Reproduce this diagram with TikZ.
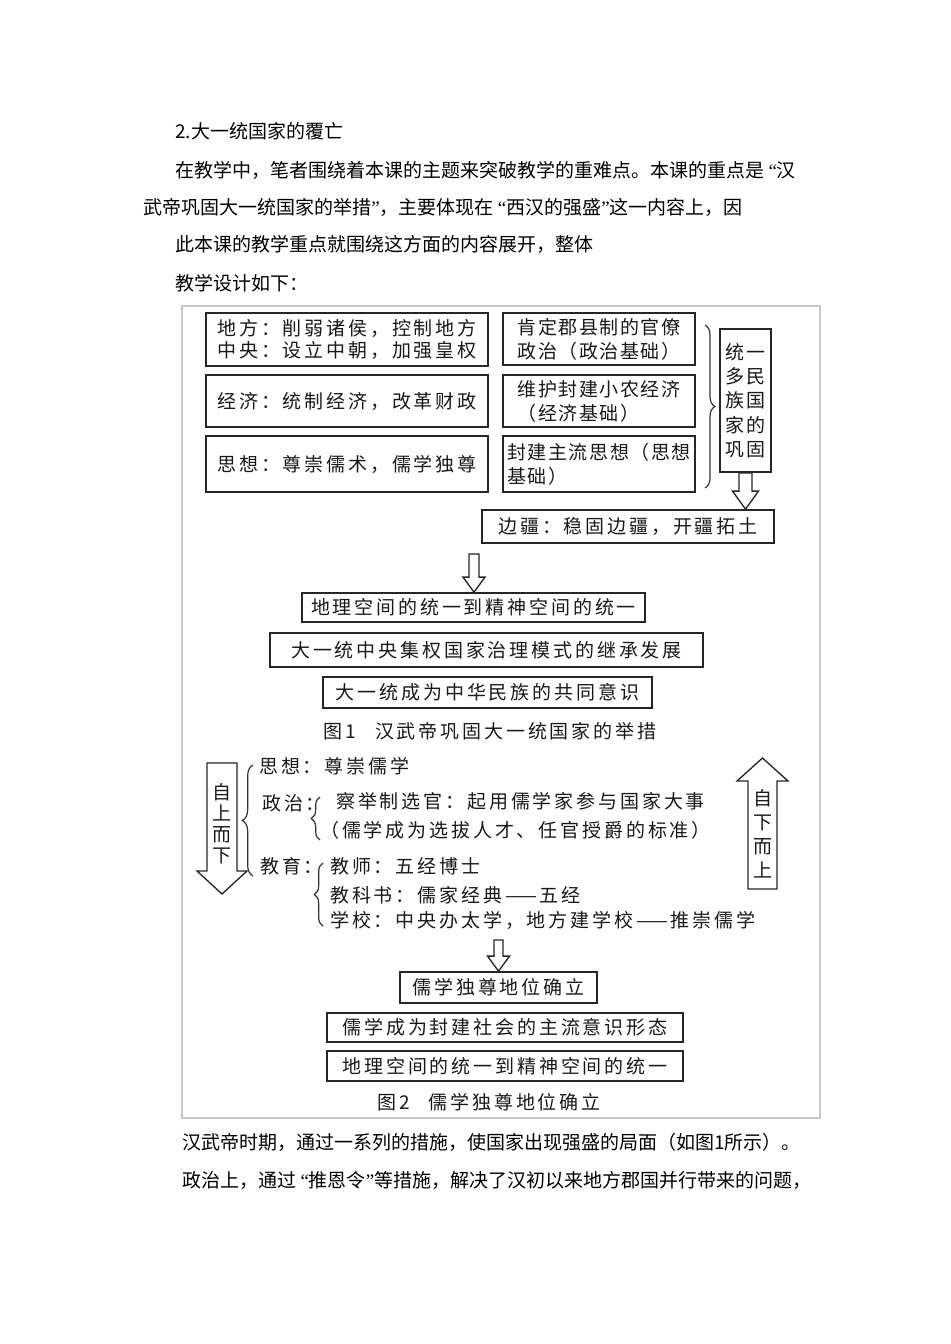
\documentclass[tikz,border=0pt]{standalone}
\usepackage{fontspec}
\setmainfont{Noto Sans CJK SC}
\newfontfamily\bodyf{Noto Sans CJK SC}
\newfontfamily\latq{Liberation Serif}
\newfontfamily\kaiA[LetterSpace=15]{Noto Sans CJK SC}
\newfontfamily\kaiB[LetterSpace=8]{Noto Sans CJK SC}
\newcommand\myLq{{\latq “}}
\newcommand\myRq{{\latq ”}}
\usetikzlibrary{decorations.pathreplacing,calc}
\newcommand\fasetup[3]{\def\fasH{#1}\def\faHH{#2}\def\faHL{#3}}
\newcommand\downfat[2]{\draw[fatarrow] let \p1=(#1), \p2=(#2) in
  (\x1-\fasH,\y1) -- (\x1+\fasH,\y1) -- (\x1+\fasH,\y2+\faHL) -- (\x1+\faHH,\y2+\faHL)
  -- (\x1,\y2) -- (\x1-\faHH,\y2+\faHL) -- (\x1-\fasH,\y2+\faHL) -- cycle;}
\newcommand\upfat[2]{\draw[fatarrow] let \p1=(#1), \p2=(#2) in
  (\x1-\fasH,\y1) -- (\x1+\fasH,\y1) -- (\x1+\fasH,\y2-\faHL) -- (\x1+\faHH,\y2-\faHL)
  -- (\x1,\y2) -- (\x1-\faHH,\y2-\faHL) -- (\x1-\fasH,\y2-\faHL) -- cycle;}
\tikzset{
  box/.style={draw=black!85, line width=1.3pt, inner sep=0pt, align=center, text=black!90,
    font=\kaiA\fontsize{14.25pt}{16.5pt}\selectfont},
  boxb/.style={box, font=\kaiB\fontsize{14.25pt}{18pt}\selectfont, align=left},
  fatarrow/.style={draw=black!85, line width=1pt, fill=white, line join=miter},
  bracel/.style={draw=black!80, line width=0.9pt, decorate, decoration={brace, amplitude=#1}},
  body/.style={anchor=west, inner sep=0pt, font=\bodyf\fontsize{14.25pt}{17pt}\selectfont},
  lbl/.style={anchor=west, inner sep=0pt, text=black!90, font=\kaiA\fontsize{14.25pt}{17pt}\selectfont},
  captxt/.style={inner sep=0pt, text=black!90, font=\kaiA\fontsize{14.25pt}{17pt}\selectfont},
  framebox/.style={draw=black!22, line width=0.8pt},
}
\begin{document}
\begin{tikzpicture}[x=0.75pt,y=-0.75pt]
\useasboundingbox (0,0) rectangle (950,1344);
\fill[white] (0,0) rectangle (950,1344);

% body text
\node[body] (t1) at (175,131) {2.大一统国家的覆亡};
\node[body] (t2) at (175,170) {在教学中，笔者围绕着本课的主题来突破教学的重难点。本课的重点是 \myLq 汉};
\node[body] (t3) at (143,207) {武帝巩固大一统国家的举措\myRq ，主要体现在 \myLq 西汉的强盛\myRq 这一内容上，因};
\node[body] (t4) at (175,244) {此本课的教学重点就围绕这方面的内容展开，整体};
\node[body] (t5) at (175,283) {教学设计如下：};
\node[body] (t6) at (182,1142) {汉武帝时期，通过一系列的措施，使国家出现强盛的局面（如图1所示）。};
\node[body] (t7) at (182,1180) {政治上，通过 \myLq 推恩令\myRq 等措施，解决了汉初以来地方郡国并行带来的问题，};

% frame
\draw[framebox] (182,306) rectangle (820,1118);

% figure 1
\node[box, align=left, minimum width=211.5pt, minimum height=39.75pt] (a1) at (347,339.5)
  {地方：削弱诸侯，控制地方\\中央：设立中朝，加强皇权};
\node[box, minimum width=211.5pt, minimum height=39pt] (a2) at (347,401) {经济：统制经济，改革财政};
\node[box, minimum width=211.5pt, minimum height=42pt] (a3) at (347,464) {思想：尊崇儒术，儒学独尊};
\node[boxb, minimum width=144pt, minimum height=39pt] (b1) at (599,339) {肯定郡县制的官僚\\政治（政治基础）};
\node[boxb, minimum width=144pt, minimum height=39pt] (b2) at (599,401) {维护封建小农经济\\（经济基础）};
\node[boxb, minimum width=144pt, minimum height=42pt] (b3) at (599,464) {封建主流思想（思想\\基础）};
\draw[bracel=7.5pt] (705,325) -- (705,488);
\node[box, font=\kaiA\fontsize{14.25pt}{18.2pt}\selectfont, minimum width=38.25pt, minimum height=107.25pt] (c) at (745.5,400.5)
  {统一\\多民\\族国\\家的\\巩固};
\node[box, minimum width=219pt, minimum height=24.75pt] (d) at (628,526.5) {边疆：稳固边疆，开疆拓土};
\fasetup{4.9pt}{9.75pt}{13.5pt}\downfat{c.south}{d.north}

\node[box, minimum width=257.25pt, minimum height=21.75pt] (e) at (473.5,607.5) {地理空间的统一到精神空间的统一};
\coordinate (a2s) at (474,554);
\fasetup{3.75pt}{8.25pt}{11.25pt}\downfat{a2s}{e.north}
\node[box, minimum width=324.75pt, minimum height=25.5pt] (f) at (486.5,650) {大一统中央集权国家治理模式的继承发展};
\node[box, minimum width=246.75pt, minimum height=23.25pt] (g) at (487.5,692.5) {大一统成为中华民族的共同意识};
\node[captxt] (cap1) at (490,731) {图1\hspace{1em}汉武帝巩固大一统国家的举措};

% figure 2
\coordinate (lt) at (222,763);
\coordinate (lb) at (222,894);
\fasetup{11.25pt}{18.75pt}{17.25pt}\downfat{lt}{lb}
\node[captxt, align=center, font=\bodyf\fontsize{14.25pt}{15.75pt}\selectfont] (ltext) at (222,823.5) {自\\上\\而\\下};
\coordinate (rb) at (762.5,889);
\coordinate (rt) at (762.5,758);
\fasetup{10.9pt}{19.1pt}{17.25pt}\upfat{rb}{rt}
\node[captxt, align=center, font=\bodyf\fontsize{14.25pt}{18pt}\selectfont] (rtext) at (762.5,834) {自\\下\\而\\上};

\draw[bracel=8pt] (253,876) -- (253,765);
\node[lbl] (sx) at (259,766) {思想：尊崇儒学};
\node[lbl] (zz) at (262,803) {政治：};
\draw[bracel=6.5pt] (320,840) -- (320,797);
\node[lbl] (zz1) at (336,801) {察举制选官：起用儒学家参与国家大事};
\node[lbl] (zz2) at (320,830) {（儒学成为选拔人才、任官授爵的标准）};
\node[lbl] (jy) at (260,866) {教育：};
\draw[bracel=6.5pt] (323,926) -- (323,863);
\node[lbl] (jy1) at (330,866) {教师：五经博士};
\node[lbl] (jy2) at (330,895) {教科书：儒家经典——五经};
\node[lbl] (jy3) at (330,920) {学校：中央办太学，地方建学校——推崇儒学};

\node[box, minimum width=147.75pt, minimum height=23.25pt] (h) at (498.5,987.5) {儒学独尊地位确立};
\coordinate (a3s) at (498.5,940);
\fasetup{3.4pt}{8.25pt}{11.25pt}\downfat{a3s}{h.north}
\node[box, minimum width=267pt, minimum height=21.75pt] (i) at (505,1027.5) {儒学成为封建社会的主流意识形态};
\node[box, minimum width=267pt, minimum height=22.5pt] (j) at (505,1066) {地理空间的统一到精神空间的统一};
\node[captxt] (cap2) at (489,1102) {图2\hspace{1em}儒学独尊地位确立};
\end{tikzpicture}
\end{document}
